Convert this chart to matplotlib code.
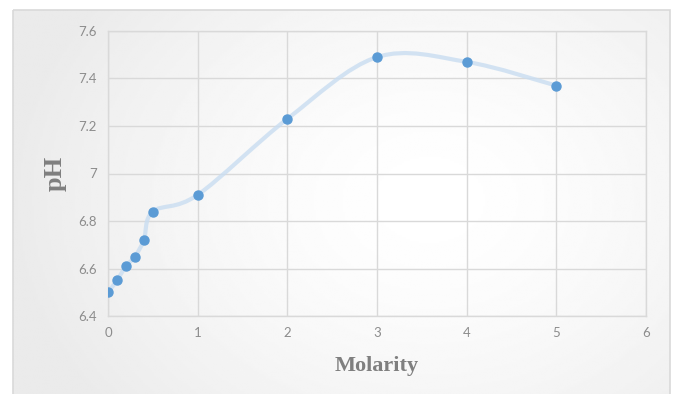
import numpy as np
import matplotlib
matplotlib.use("Agg")
import matplotlib.pyplot as plt
from matplotlib.path import Path
from matplotlib.patches import PathPatch, Rectangle

molarity = [0, 0.1, 0.2, 0.3, 0.4, 0.5, 1, 2, 3, 4, 5]
ph = [6.50, 6.55, 6.61, 6.65, 6.72, 6.84, 6.91, 7.23, 7.49, 7.47, 7.37]
x_ticks = [0, 1, 2, 3, 4, 5, 6]
y_ticks = [6.4, 6.6, 6.8, 7.0, 7.2, 7.4, 7.6]
y_tick_labels = ["6.4", "6.6", "6.8", "7", "7.2", "7.4", "7.6"]


def smooth_path(xs, ys):
    # excel style smoothed line: catmull-rom converted to cubic bezier pieces
    pts = np.column_stack([xs, ys]).astype(float)
    n = len(pts)
    verts = [pts[0]]
    codes = [Path.MOVETO]
    for i in range(n - 1):
        p0 = pts[max(i - 1, 0)]
        p1 = pts[i]
        p2 = pts[i + 1]
        p3 = pts[min(i + 2, n - 1)]
        c1 = p1 + (p2 - p0) / 6
        c2 = p2 - (p3 - p1) / 6
        verts += [c1, c2, p2]
        codes += [Path.CURVE4] * 3
    return Path(verts, codes)


fig = plt.figure(figsize=(6.73, 3.94), dpi=100)
fig.patch.set_facecolor("white")

# chart frame with a soft radial gradient
bg = fig.add_axes([0, 0, 1, 1], zorder=0)
bg.set_xlim(0, 673)
bg.set_ylim(394, 0)
bg.axis("off")
gx, gy = np.meshgrid(np.linspace(13, 670, 300), np.linspace(10, 400, 200))
r = np.sqrt(((gx - 430) / 420) ** 2 + ((gy - 200) / 330) ** 2)
shade = 1 - 0.08 * np.clip(r, 0, 1) ** 1.5
bg.imshow(shade, extent=[13, 670, 400, 10], cmap="gray", vmin=0, vmax=1,
          aspect="auto", interpolation="bilinear")
bg.add_patch(Rectangle((13, 10), 657, 400, fill=False, edgecolor="#d9d9d9", lw=1.2))

ax = fig.add_axes([108 / 673, 78 / 394, 538 / 673, 285 / 394], zorder=1)
ax.patch.set_alpha(0)

path = smooth_path(molarity, ph)
ax.add_patch(PathPatch(path, facecolor="none", edgecolor="#c9ddf1", lw=3, alpha=0.8,
                       capstyle="round"))
ax.plot(molarity, ph, "o", color="#5b9bd5", markersize=6.5, zorder=3)

ax.set_xlim(0, 6)
ax.set_ylim(6.4, 7.6)
ax.set_xticks(x_ticks)
ax.set_yticks(y_ticks)
ax.set_yticklabels(y_tick_labels)
ax.grid(True, color="#d9d9d9", lw=1)
ax.set_axisbelow(True)
for s in ax.spines.values():
    s.set_color("#d9d9d9")
    s.set_linewidth(1)
ax.tick_params(length=0, colors="#8c8c8c", labelsize=9.5, pad=8)
for lab in ax.get_xticklabels() + ax.get_yticklabels():
    lab.set_fontfamily("Lato")

ax.set_xlabel("Molarity", fontfamily="Liberation Serif", fontweight="bold",
              fontsize=16, color="#7f7f7f", labelpad=12)
ax.set_ylabel("pH", fontfamily="Liberation Serif", fontweight="bold",
              fontsize=19, color="#7f7f7f", labelpad=8)

fig.savefig("out.png", dpi=100)
